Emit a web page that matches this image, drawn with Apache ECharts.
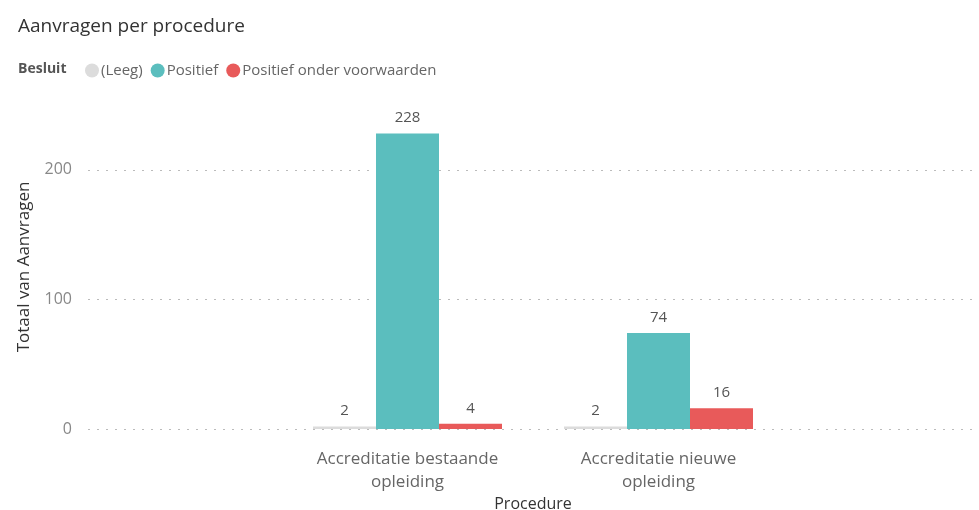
<!DOCTYPE html>
<html>
<head>
<meta charset="utf-8">
<script src="https://cdn.jsdelivr.net/npm/echarts@6/dist/echarts.min.js"></script>
<style>
html,body{margin:0;padding:0;background:#fff;}
#chart{width:979px;height:510px;}
</style>
</head>
<body>
<div id="chart"></div>
<script>
var categories = ['Accreditatie bestaande\nopleiding', 'Accreditatie nieuwe\nopleiding'];
var seriesNames = ['(Leeg)', 'Positief', 'Positief onder voorwaarden'];
var leegValues = [2, 2];
var positiefValues = [228, 74];
var voorwaardenValues = [4, 16];
var yTicks = [0, 100, 200];

var FONT = '"Segoe UI", "Open Sans", "Noto Sans", sans-serif';
var colors = ['#DCDCDC', '#5BBEBE', '#E85A5A'];

function barSeries(name, data, color) {
  return {
    name: name, type: 'bar', data: data, xAxisIndex: 1, yAxisIndex: 1,
    barGap: '0%', barCategoryGap: '24.7%',
    itemStyle: { color: color },
    label: { show: true, position: 'top', distance: 8, color: '#555', fontSize: 15, fontFamily: FONT }
  };
}

var chart = echarts.init(document.getElementById('chart'));
chart.setOption({
  animation: false,
  color: colors,
  title: [
    { text: 'Aanvragen per procedure', left: 13, top: 12,
      textStyle: { fontSize: 19, fontWeight: 'normal', color: '#333', fontFamily: FONT } },
    { text: 'Besluit', left: 13, top: 57,
      textStyle: { fontSize: 14, fontWeight: 'bold', color: '#555', fontFamily: FONT } }
  ],
  legend: {
    left: 80, top: 58, icon: 'circle', itemWidth: 14, itemHeight: 14, itemGap: 8,
    data: seriesNames,
    textStyle: { fontSize: 15, color: '#666', fontFamily: FONT, padding: [0, 0, 0, -3] }
  },
  grid: [
    { left: 88, right: 0, top: 105, bottom: 81, outerBoundsMode: 'none' },
    { left: 282, right: 195, top: 105, bottom: 81, outerBoundsMode: 'none' }
  ],
  xAxis: [
    { type: 'category', gridIndex: 0, data: categories, show: false },
    { type: 'category', gridIndex: 1, data: categories,
      axisLine: { show: false }, axisTick: { show: false },
      axisLabel: { color: '#666', fontSize: 17, fontFamily: FONT, margin: 19, lineHeight: 23 },
      name: 'Procedure', nameLocation: 'middle', nameGap: 67, nameMoveOverlap: false,
      nameTextStyle: { color: '#333', fontSize: 16, fontFamily: FONT } }
  ],
  yAxis: [
    { type: 'value', gridIndex: 0, min: yTicks[0], max: 250, interval: yTicks[1] - yTicks[0],
      axisLine: { show: false }, axisTick: { show: false },
      axisLabel: { color: '#888', fontSize: 16, fontFamily: FONT, margin: 16, showMaxLabel: false },
      splitLine: { show: true, showMaxLine: false, lineStyle: { type: [2, 7], color: '#BBB', width: 1 } },
      name: 'Totaal van Aanvragen', nameLocation: 'middle', nameGap: 55,
      nameTextStyle: { color: '#333', fontSize: 17, fontFamily: FONT } },
    { type: 'value', gridIndex: 1, min: 0, max: 250, show: false, splitLine: { show: false } }
  ],
  series: [
    barSeries(seriesNames[0], leegValues, colors[0]),
    barSeries(seriesNames[1], positiefValues, colors[1]),
    barSeries(seriesNames[2], voorwaardenValues, colors[2])
  ]
});
</script>
</body>
</html>
